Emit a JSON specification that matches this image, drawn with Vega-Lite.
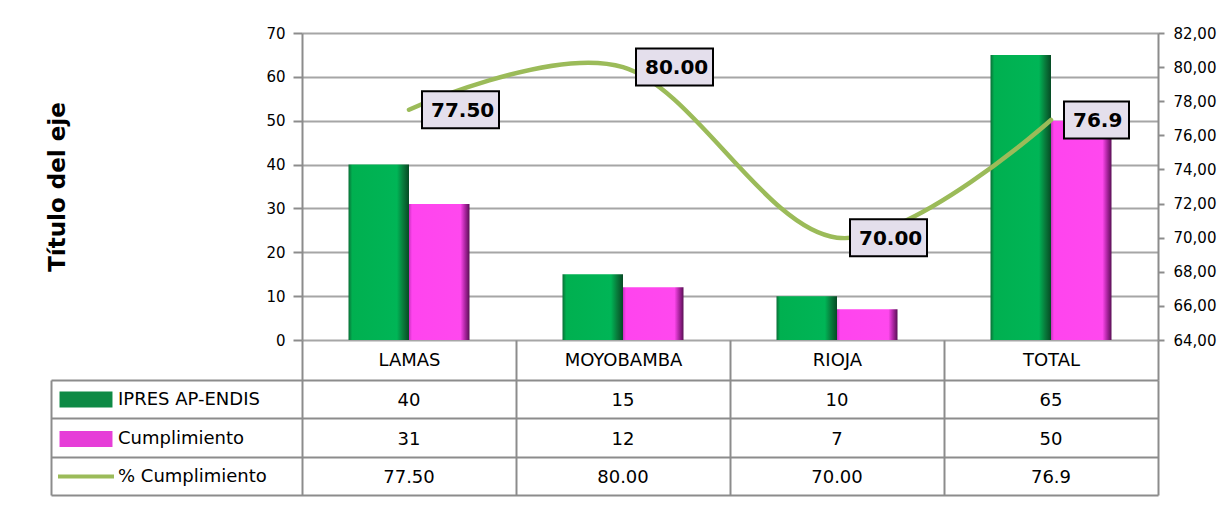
{
  "$schema": "https://vega.github.io/schema/vega-lite/v6.json",
  "background": "white",
  "padding": {"left": 46, "top": 26, "right": 10, "bottom": 5},
  "config": {
    "view": {"stroke": null},
    "font": "DejaVu Sans",
    "axis": {"labelFont": "DejaVu Sans", "titleFont": "DejaVu Sans", "labelColor": "#000", "titleColor": "#000"},
    "legend": {"labelFont": "DejaVu Sans"}
  },
  "datasets": {
    "bars": [
      {"cat": "LAMAS", "series": "IPRES AP-ENDIS", "value": 40},
      {"cat": "LAMAS", "series": "Cumplimiento", "value": 31},
      {"cat": "MOYOBAMBA", "series": "IPRES AP-ENDIS", "value": 15},
      {"cat": "MOYOBAMBA", "series": "Cumplimiento", "value": 12},
      {"cat": "RIOJA", "series": "IPRES AP-ENDIS", "value": 10},
      {"cat": "RIOJA", "series": "Cumplimiento", "value": 7},
      {"cat": "TOTAL", "series": "IPRES AP-ENDIS", "value": 65},
      {"cat": "TOTAL", "series": "Cumplimiento", "value": 50}
    ],
    "pct": [
      {"cat": "LAMAS", "pct": 77.5, "label": "77.50"},
      {"cat": "MOYOBAMBA", "pct": 80, "label": "80.00"},
      {"cat": "RIOJA", "pct": 70, "label": "70.00"},
      {"cat": "TOTAL", "pct": 76.9, "label": "76.9"}
    ],
    "table": [
      {"cat": "LAMAS", "row": "IPRES AP-ENDIS", "text": "40"},
      {"cat": "MOYOBAMBA", "row": "IPRES AP-ENDIS", "text": "15"},
      {"cat": "RIOJA", "row": "IPRES AP-ENDIS", "text": "10"},
      {"cat": "TOTAL", "row": "IPRES AP-ENDIS", "text": "65"},
      {"cat": "LAMAS", "row": "Cumplimiento", "text": "31"},
      {"cat": "MOYOBAMBA", "row": "Cumplimiento", "text": "12"},
      {"cat": "RIOJA", "row": "Cumplimiento", "text": "7"},
      {"cat": "TOTAL", "row": "Cumplimiento", "text": "50"},
      {"cat": "LAMAS", "row": "% Cumplimiento", "text": "77.50"},
      {"cat": "MOYOBAMBA", "row": "% Cumplimiento", "text": "80.00"},
      {"cat": "RIOJA", "row": "% Cumplimiento", "text": "70.00"},
      {"cat": "TOTAL", "row": "% Cumplimiento", "text": "76.9"}
    ]
  },
  "bounds": "flush",
  "spacing": 40,
  "resolve": {"scale": {"color": "independent", "shape": "independent"}, "legend": {"color": "independent", "shape": "independent"}},
  "vconcat": [
    {
      "width": 856,
      "height": 307,
      "encoding": {
        "x": {
          "field": "cat", "type": "nominal", "sort": null,
          "scale": {"paddingInner": 0.4346, "paddingOuter": 0.2173},
          "axis": null
        }
      },
      "layer": [
        {
          "data": {"name": "bars"},
          "encoding": {
            "xOffset": {"field": "series", "type": "nominal", "scale": {"domain": ["IPRES AP-ENDIS", "Cumplimiento"], "paddingInner": 0, "paddingOuter": 0}},
            "y": {
              "field": "value", "type": "quantitative",
              "scale": {"domain": [0, 70], "nice": false},
              "axis": {
                "values": [0, 10, 20, 30, 40, 50, 60, 70],
                "grid": true, "gridColor": "#A6A6A6", "gridWidth": 2,
                "domain": true, "domainColor": "#8C8C8C", "domainWidth": 2,
                "ticks": true, "tickSize": 9, "tickColor": "#8C8C8C", "tickWidth": 2,
                "labelPadding": 8, "labelFontSize": 15,
                "title": "Título del eje", "titleFontSize": 23, "titleFontWeight": "bold", "titlePadding": 196
              }
            }
          },
          "layer": [
            {
              "transform": [{"filter": "datum.series === 'IPRES AP-ENDIS'"}],
              "mark": {
                "type": "bar",
                "color": {"gradient": "linear", "x1": 0, "x2": 1, "y1": 0, "y2": 0,
                  "stops": [
                    {"offset": 0, "color": "#0B6E37"},
                    {"offset": 0.06, "color": "#00B050"},
                    {"offset": 0.8, "color": "#00B556"},
                    {"offset": 0.9, "color": "#087C3C"},
                    {"offset": 1, "color": "#064A24"}
                  ]}
              }
            },
            {
              "transform": [{"filter": "datum.series === 'Cumplimiento'"}],
              "mark": {
                "type": "bar",
                "color": {"gradient": "linear", "x1": 0, "x2": 1, "y1": 0, "y2": 0,
                  "stops": [
                    {"offset": 0, "color": "#C932C0"},
                    {"offset": 0.05, "color": "#FF44EE"},
                    {"offset": 0.85, "color": "#FF48EE"},
                    {"offset": 0.93, "color": "#A8249E"},
                    {"offset": 1, "color": "#5A1055"}
                  ]}
              }
            }
          ]
        },
        {
          "data": {"name": "pct"},
          "encoding": {
            "y": {
              "field": "pct", "type": "quantitative",
              "scale": {"domain": [64, 82], "nice": false},
              "axis": {
                "orient": "right",
                "values": [64, 66, 68, 70, 72, 74, 76, 78, 80, 82],
                "labelExpr": "replace(format(datum.value, '.2f'), '.', ',')",
                "grid": false,
                "domain": true, "domainColor": "#8C8C8C", "domainWidth": 2,
                "ticks": true, "tickSize": 6, "tickColor": "#8C8C8C", "tickWidth": 2,
                "labelPadding": 9, "labelFontSize": 15, "title": null
              }
            }
          },
          "layer": [
            {"mark": {"type": "line", "interpolate": "cardinal", "color": "#9BBB59", "strokeWidth": 4.5, "strokeCap": "round"}},
            {
              "mark": {"type": "point", "filled": true, "fill": "#E4DFEC", "fillOpacity": 1, "stroke": "#000", "strokeWidth": 2, "strokeOpacity": 1, "size": 400, "opacity": 1},
              "encoding": {
                "shape": {"condition": {"test": "datum.label === '76.9'", "value": "M1.3,-1.85H7.8V1.85H1.3Z"}, "value": "M1.3,-1.85H9V1.85H1.3Z"}
              }
            },
            {
              "mark": {"type": "text", "align": "left", "baseline": "middle", "dx": 22, "dy": 1, "fontSize": 20, "fontWeight": "bold", "color": "#000"},
              "encoding": {"text": {"field": "label", "type": "nominal"}}
            }
          ]
        }
      ],
      "resolve": {"scale": {"y": "independent"}}
    },
    {
      "width": 856,
      "height": 115,
      "data": {"name": "table"},
      "encoding": {
        "x": {
          "field": "cat", "type": "nominal", "sort": null,
          "scale": {"paddingInner": 0, "paddingOuter": 0},
          "axis": {"orient": "top", "title": null, "labelAngle": 0,
            "labels": true, "labelFontSize": 18, "labelBaseline": "middle", "labelPadding": -20,
            "ticks": true, "tickBand": "extent", "tickSize": 40, "tickColor": "#8C8C8C", "tickWidth": 2,
            "domain": false,
            "grid": true, "gridColor": "#8C8C8C", "gridWidth": 2}
        },
        "y": {
          "field": "row", "type": "nominal",
          "scale": {"domain": ["IPRES AP-ENDIS", "Cumplimiento", "% Cumplimiento"], "paddingInner": 0, "paddingOuter": 0},
          "axis": {"orient": "left", "title": null, "labels": false, "offset": 251,
            "domain": true, "domainColor": "#8C8C8C", "domainWidth": 2,
            "ticks": true, "tickBand": "extent", "tickSize": -1107, "tickColor": "#8C8C8C", "tickWidth": 2,
            "grid": false}
        }
      },
      "layer": [
        {
          "mark": {"type": "text", "fontSize": 18, "color": "#000", "baseline": "middle", "dy": 2},
          "encoding": {"text": {"field": "text", "type": "nominal"}}
        },
        {
          "mark": {"type": "point", "filled": true, "size": 0},
          "encoding": {
            "color": {
              "field": "row", "type": "nominal",
              "scale": {"domain": ["IPRES AP-ENDIS", "Cumplimiento", "% Cumplimiento"], "range": ["#0E8A45", "#E63ED8", "#9BBB59"]},
              "legend": {
                "orient": "none", "legendX": -225, "legendY": 10.5, "title": null,
                "padding": 0, "labelFontSize": 18, "labelColor": "#000",
                "symbolSize": 256, "rowPadding": 17.5, "labelOffset": 23, "symbolOpacity": 1
              }
            },
            "shape": {
              "field": "row", "type": "nominal",
              "scale": {"domain": ["IPRES AP-ENDIS", "Cumplimiento", "% Cumplimiento"], "range": ["M-3.31,-1H3.31V1H-3.31Z", "M-3.31,-1H3.31V1H-3.31Z", "M-3.5,-0.26H3.5V0.26H-3.5Z"]},
              "legend": {
                "orient": "none", "legendX": -225, "legendY": 10.5, "title": null,
                "padding": 0, "labelFontSize": 18, "labelColor": "#000",
                "symbolSize": 256, "rowPadding": 17.5, "labelOffset": 23, "symbolOpacity": 1
              }
            }
          }
        }
      ]
    }
  ]
}
